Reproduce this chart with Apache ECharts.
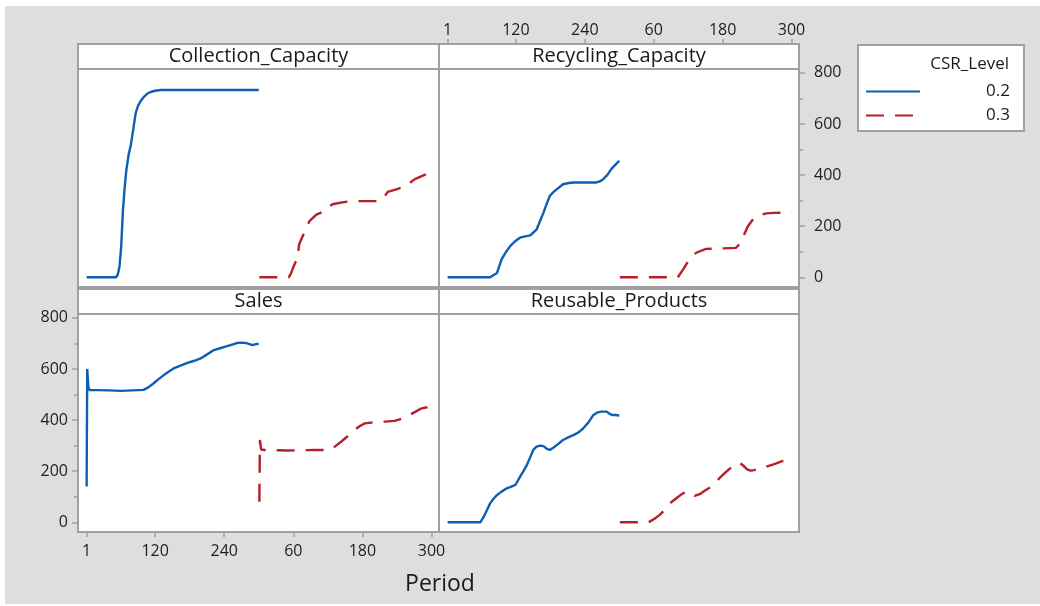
<!DOCTYPE html>
<html>
<head>
<meta charset="utf-8">
<script src="https://cdn.jsdelivr.net/npm/echarts@6/dist/echarts.min.js"></script>
<style>
  html, body { margin: 0; padding: 0; background: #fff; }
  #chart { width: 1040px; height: 606px; }
</style>
</head>
<body>
<div id="chart"></div>
<script>
// period axis: CSR 0.2 runs 1..300, CSR 0.3 is drawn after it (300 + period)
let periodTicks = [1, 120, 240, 360, 480, 600];
let periodTickLabels = ['1', '120', '240', '60', '180', '300'];
let valueTicks = [0, 200, 400, 600, 800];
let valueMinorTicks = [100, 300, 500, 700];
let panelNames = ['Collection_Capacity', 'Recycling_Capacity', 'Sales', 'Reusable_Products'];
let levels = ['0.2', '0.3'];

// Collection_Capacity
let collPeriod02 = [1, 52, 55, 58, 61, 64, 67, 70, 74, 78, 82, 86, 90, 95, 100, 106, 112, 120, 130, 300];
let collValue02 = [0, 0, 10, 40, 120, 260, 350, 420, 480, 520, 580, 640, 670, 690, 705, 718, 725, 730, 733, 733];
let collPeriod03 = [1, 52, 56, 60, 64, 67, 70, 75, 79, 84, 88, 100, 114, 128, 145, 160, 177, 210, 218, 224, 240, 256, 264, 271, 285, 300];
let collValue03 = [0, 0, 15, 40, 60, 70, 128, 155, 174, 200, 220, 245, 259, 286, 293, 298, 298, 298, 315, 334, 345, 357, 372, 384, 398, 412];

// Recycling_Capacity
let recyPeriod02 = [1, 75, 87, 95, 103, 110, 118, 127, 136, 145, 156, 162, 168, 174, 179, 185, 191, 202, 212, 220, 240, 260, 266, 272, 279, 286, 293, 300];
let recyValue02 = [0, 0, 17, 70, 100, 122, 140, 155, 160, 164, 187, 220, 253, 290, 318, 333, 344, 364, 369, 371, 371, 371, 375, 384, 400, 423, 440, 456];
let recyPeriod03 = [1, 102, 111, 122, 134, 151, 180, 203, 212, 218, 224, 235, 245, 256, 270, 290, 300];
let recyValue03 = [0, 0, 30, 70, 96, 111, 113, 115, 135, 170, 200, 233, 243, 250, 252, 253, 253];

// Sales
let salesPeriod02 = [1, 2, 4, 6, 20, 40, 60, 80, 100, 108, 117, 126, 135, 144, 152, 164, 176, 188, 199, 211, 222, 234, 245, 255, 263, 272, 280, 289, 295, 300];
let salesValue02 = [140, 600, 530, 517, 517, 516, 514, 516, 518, 528, 543, 560, 576, 590, 602, 613, 624, 632, 641, 658, 674, 682, 689, 696, 702, 703, 700, 693, 697, 698];
let salesPeriod03 = [1, 2, 4, 10, 50, 100, 123, 133, 143, 155, 166, 175, 184, 195, 207, 220, 236, 248, 259, 270, 283, 292, 300];
let salesValue03 = [80, 322, 285, 283, 281, 283, 283, 298, 315, 338, 361, 376, 387, 390, 393, 394, 397, 405, 416, 430, 446, 450, 456];

// Reusable_Products
let reusPeriod02 = [1, 58, 64, 70, 75, 81, 87, 95, 104, 112, 119, 127, 133, 139, 145, 150, 156, 162, 168, 174, 179, 185, 191, 202, 212, 220, 229, 237, 246, 255, 262, 269, 278, 283, 287, 293, 300];
let reusValue02 = [0, 0, 22, 50, 74, 92, 107, 120, 133, 140, 146, 178, 200, 224, 255, 283, 296, 300, 298, 287, 283, 292, 302, 322, 333, 341, 352, 367, 390, 420, 430, 433, 433, 425, 420, 420, 418];
let reusPeriod03 = [1, 51, 60, 70, 79, 88, 100, 110, 117, 125, 131, 140, 150, 160, 171, 180, 190, 198, 209, 216, 222, 228, 235, 245, 255, 270, 285, 300];
let reusValue03 = [0, 0, 12, 28, 48, 74, 95, 112, 120, 115, 103, 110, 125, 139, 165, 185, 205, 220, 233, 222, 208, 202, 204, 210, 217, 228, 240, 243];

let panelData = [
    [collPeriod02, collValue02, collPeriod03, collValue03],
    [recyPeriod02, recyValue02, recyPeriod03, recyValue03],
    [salesPeriod02, salesValue02, salesPeriod03, salesValue03],
    [reusPeriod02, reusValue02, reusPeriod03, reusValue03]
];

let font = '"Open Sans", "Noto Sans", sans-serif';
let borderColor = '#a0a0a0';
let textColor = '#1a1a1a';
let blue = '#0c5fb2';
let red = '#b3202a';

// panel boxes (plot area), strip is 25px above each
let panels = [
    { left: 78, top: 69, width: 361, height: 218 },
    { left: 439, top: 69, width: 360, height: 218 },
    { left: 78, top: 314, width: 361, height: 218 },
    { left: 439, top: 314, width: 360, height: 218 }
];
let stripH = 25;

let tickLabel = v => {
    let i = periodTicks.indexOf(v);
    return i >= 0 ? periodTickLabels[i] : '';
};

let grid = panels.map(p => ({
    left: p.left, top: p.top, width: p.width, height: p.height,
    show: true, backgroundColor: '#fff', borderColor: borderColor, borderWidth: 2
}));

let xAxis = panels.map((p, i) => {
    let showTop = i === 1, showBottom = i === 2;
    return {
        type: 'value', gridIndex: i, min: -14, max: 613,
        position: showTop ? 'top' : 'bottom',
        offset: showTop ? stripH : 0,
        splitLine: { show: false },
        axisLine: { show: false, onZero: false },
        axisTick: {
            show: showTop || showBottom, customValues: periodTicks, length: 5,
            lineStyle: { color: borderColor, width: 1.5 }
        },
        axisLabel: {
            show: showTop || showBottom, customValues: periodTicks, formatter: tickLabel,
            margin: showTop ? 6 : 11, color: '#1e1e1e', fontSize: 16, fontFamily: font
        }
    };
});

let yAxis = [];
panels.forEach((p, i) => {
    let show = i === 1 || i === 2;
    yAxis.push({
        type: 'value', gridIndex: i, min: -38, max: 815,
        position: i === 1 ? 'right' : 'left',
        splitLine: { show: false },
        axisLine: { show: false, onZero: false },
        axisTick: {
            show: show, customValues: valueTicks, length: 6,
            lineStyle: { color: borderColor, width: 1.5 }
        },
        axisLabel: {
            show: show, customValues: valueTicks, margin: i === 1 ? 15 : 10,
            color: '#1e1e1e', fontSize: 16, fontFamily: font
        }
    });
});
// minor ticks for the two labelled value axes
[1, 2].forEach(i => {
    yAxis.push({
        type: 'value', gridIndex: i, min: -38, max: 815,
        position: i === 1 ? 'right' : 'left',
        splitLine: { show: false },
        axisLine: { show: false, onZero: false },
        axisTick: {
            customValues: valueMinorTicks, length: 4,
            lineStyle: { color: borderColor, width: 1.5 }
        },
        axisLabel: { show: false }
    });
});

let series = [];
panelData.forEach((d, i) => {
    series.push({
        name: levels[0], type: 'line', xAxisIndex: i, yAxisIndex: i,
        symbol: 'none', silent: true,
        lineStyle: { color: blue, width: 2.4 },
        itemStyle: { color: blue },
        data: d[0].map((t, k) => [t, d[1][k]])
    });
    series.push({
        name: levels[1], type: 'line', xAxisIndex: i, yAxisIndex: i,
        symbol: 'none', silent: true,
        lineStyle: { color: red, width: 2.4, type: [18, 11] },
        itemStyle: { color: red },
        data: d[2].map((t, k) => [300 + t, d[3][k]])
    });
});

let graphic = [
    // white margins around the grey page
    { type: 'rect', shape: { x: 0, y: 0, width: 1040, height: 6 }, style: { fill: '#fff' }, silent: true },
    { type: 'rect', shape: { x: 0, y: 0, width: 5, height: 606 }, style: { fill: '#fff' }, silent: true },
    { type: 'rect', shape: { x: 0, y: 604, width: 1040, height: 2 }, style: { fill: '#fff' }, silent: true }
];
panels.forEach((p, i) => {
    graphic.push({
        type: 'rect', silent: true,
        shape: { x: p.left, y: p.top - stripH, width: p.width, height: stripH },
        style: { fill: '#fff', stroke: borderColor, lineWidth: 2 }
    });
    graphic.push({
        type: 'text', silent: true, x: p.left + p.width / 2, y: p.top - stripH / 2,
        style: {
            text: panelNames[i], fill: textColor, font: '20px ' + font,
            textAlign: 'center', textVerticalAlign: 'middle'
        }
    });
});
// legend box + title
graphic.push({
    type: 'rect', silent: true,
    shape: { x: 858, y: 45, width: 166, height: 86 },
    style: { fill: '#fff', stroke: borderColor, lineWidth: 2 }
});
graphic.push({
    type: 'text', silent: true, x: 1009, y: 64,
    style: { text: 'CSR_Level', fill: textColor, font: '17px ' + font, textAlign: 'right', textVerticalAlign: 'middle' }
});
// x axis title
graphic.push({
    type: 'text', silent: true, x: 440, y: 584,
    style: { text: 'Period', fill: textColor, font: '23px ' + font, textAlign: 'center', textVerticalAlign: 'middle' }
});

let option = {
    animation: false,
    backgroundColor: '#dedede',
    grid: grid,
    xAxis: xAxis,
    yAxis: yAxis,
    series: series,
    legend: {
        data: levels, orient: 'vertical', left: 860, top: 78,
        itemWidth: 54, itemHeight: 14, itemGap: 7,
        selectedMode: false,
        itemStyle: { opacity: 0 },
        textStyle: { color: textColor, fontSize: 17, fontFamily: font, padding: [0, 0, 0, 61] }
    },
    graphic: graphic
};

let myChart = echarts.init(document.getElementById('chart'));
myChart.setOption(option);
</script>
</body>
</html>
